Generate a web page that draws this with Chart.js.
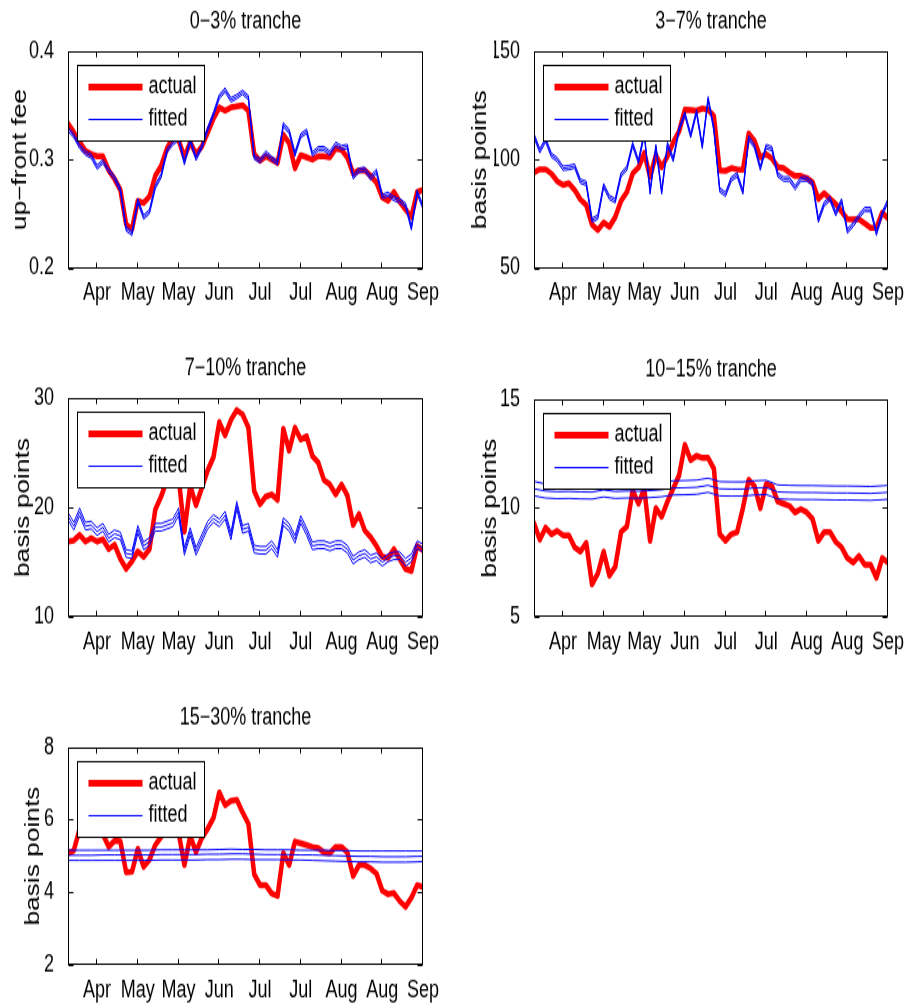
<!DOCTYPE html>
<html>
<head>
<meta charset="utf-8">
<script src="https://cdn.jsdelivr.net/npm/chart.js@4/dist/chart.umd.min.js"></script>
<style>
  html, body { margin: 0; padding: 0; background: #fff; }
  #fig { position: relative; width: 909px; height: 1004px; overflow: hidden; }
  .panel { position: absolute; transform-origin: 0 0; }
  .panel canvas { display: block; }
</style>
</head>
<body>
<div id="fig"></div>
<script>
// ---- data -------------------------------------------------------------
// trading-day index of each observation
const days = [0,2,4,6,8,10,12,14,16,18,20,22,24,26,28,30,32,34,36,38,40,42,44,46,48,50,52,54,56,58,60,
  62,64,66,68,70,72,74,76,78,80,82,84,86,88,90,92,94,96,98,100,102,104,106,108,110,112,114,116,118,120,122];
const coarseDays = [0,4,8,12,16,20,24,28,32,36,40,44,48,52,56,60,64,68,72,76,80,84,88,92,96,100,104,108,112,116,120,122];

const monthTickDays = [10,24,38,52,66,80,94,108,122];
const monthTickLabels = ['Apr','May','May','Jun','Jul','Jul','Aug','Aug','Sep'];
const seriesNames = ['actual','fitted'];
const panelTitles = ['0\u22123% tranche','3\u22127% tranche','7\u221210% tranche','10\u221215% tranche','15\u221230% tranche'];
const yTitles = ['up\u2212front fee','basis points','basis points','basis points','basis points'];

// 0-3% tranche (up-front fee)
const actual03 = [0.333,0.325,0.316,0.308,0.305,0.303,0.303,0.290,0.282,0.272,0.240,0.236,0.262,0.260,0.266,0.285,0.294,0.310,0.320,0.318,0.302,0.316,0.305,0.312,0.325,0.338,0.348,0.345,0.348,0.349,0.350,
  0.345,0.305,0.299,0.303,0.300,0.297,0.323,0.315,0.292,0.304,0.302,0.300,0.303,0.303,0.302,0.310,0.309,0.302,0.287,0.290,0.290,0.285,0.279,0.265,0.262,0.270,0.261,0.254,0.247,0.270,0.272];
const fitted03 = [0.328,0.322,0.312,0.306,0.303,0.293,0.298,0.290,0.283,0.272,0.236,0.232,0.262,0.247,0.252,0.275,0.285,0.308,0.315,0.320,0.297,0.318,0.301,0.312,0.328,0.342,0.358,0.364,0.355,0.358,0.362,
  0.357,0.302,0.299,0.306,0.301,0.297,0.332,0.326,0.305,0.322,0.326,0.305,0.310,0.310,0.306,0.314,0.311,0.312,0.284,0.290,0.291,0.283,0.289,0.266,0.268,0.264,0.262,0.258,0.237,0.270,0.256];
const fitted03Hi = [0.330,0.324,0.314,0.308,0.305,0.295,0.300,0.292,0.285,0.274,0.238,0.234,0.264,0.249,0.254,0.277,0.287,0.310,0.317,0.322,0.299,0.320,0.303,0.314,0.330,0.344,0.360,0.366,0.357,0.360,0.364,
  0.359,0.304,0.301,0.308,0.303,0.299,0.334,0.328,0.307,0.324,0.328,0.307,0.312,0.312,0.308,0.316,0.313,0.314,0.286,0.292,0.293,0.285,0.291,0.268,0.270,0.266,0.264,0.260,0.239,0.272,0.258];
const fitted03Lo = [0.326,0.320,0.310,0.304,0.301,0.291,0.296,0.288,0.281,0.270,0.234,0.230,0.260,0.245,0.250,0.273,0.283,0.306,0.313,0.318,0.295,0.316,0.299,0.310,0.326,0.340,0.356,0.362,0.353,0.356,0.360,
  0.355,0.300,0.297,0.304,0.299,0.295,0.330,0.324,0.303,0.320,0.324,0.303,0.308,0.308,0.304,0.312,0.309,0.310,0.282,0.288,0.289,0.281,0.287,0.264,0.266,0.262,0.260,0.256,0.235,0.268,0.254];

// 3-7% tranche (bp)
const actual37 = [94,95.5,95.5,93.5,90,88.3,89,86,81.6,79,70,67.5,71,69,73.5,81,85,93.5,96.3,103,92,102,96.5,101.5,108,113,123,122.8,122.5,123.5,123,
  120,95,94.8,96,95.5,95.3,112,108.5,101,102.5,100.5,96.5,96,94,92.4,92.4,91.5,89.5,81.8,84.5,82,79.5,76,72.5,72.4,72.5,70.5,68.5,68.5,75.5,73];
const fitted37 = [111,104,109,102,100,96,96.3,97,90,89,72,73.5,88,82.5,81,93,96,107,99,112,85,106,85,107,100,114,121,111,122,106,128,
  114,86,84,91,93,85,110,106,96,106,105,93,91,91,87,91,91,89,72,79.5,82,75,81,67,70,74,77,77,66,75,81];
const fitted37Hi = [112,105,110,103,101,97,97.3,98,91,90,73,74.5,89,83.5,82,94,97,108,100,113,86,107,86,108,101,115,122,112,123,107,129,
  115,87,85,92,94,86,111,107,97,107,106,94,92,92,88,92,92,90,73,80.5,83,76,82,68,71,75,78,78,67,76,82];
const fitted37Lo = [110,103,108,101,99,95,95.3,96,89,88,71,72.5,87,81.5,80,92,95,106,98,111,84,105,84,106,99,113,120,110,121,105,127,
  113,85,83,90,92,84,109,105,95,105,104,92,90,90,86,90,90,88,71,78.5,81,74,80,66,69,73,76,76,65,74,80];

// 7-10% tranche (bp)
const actual710 = [16.9,17.0,17.5,16.9,17.2,16.9,17.1,16.2,16.6,15.3,14.4,15.1,16.0,15.5,16.2,19.8,21.0,22.5,23.5,22.8,17.8,22.0,20.2,21.8,23.4,24.6,27.8,26.6,28.0,28.9,28.5,
  27.3,21.5,20.3,21.0,21.2,20.7,27.2,25.2,27.3,26.2,26.5,24.7,24.1,22.5,22.1,21.2,22.1,21.1,18.4,19.4,17.9,17.3,16.5,15.5,15.4,16.2,15.3,14.4,14.2,16.5,16.1];
const fitted710 = [19.2,18.3,19.6,18.3,18.4,17.8,18.2,17.2,17.6,17.4,15.8,15.7,18.0,16.5,16.9,18.2,18.2,18.4,18.6,19.6,16.0,17.8,16.0,17.2,18.4,19.0,18.6,19.3,17.4,20.2,18.0,
  18.2,16.2,16.1,16.1,16.6,15.8,18.7,18.2,17.1,18.9,17.8,16.5,16.6,16.6,16.4,16.6,16.6,16.2,15.2,15.6,15.8,15.3,15.5,15.0,15.4,15.6,15.6,15.0,15.4,16.6,16.3];
const fitted710Hi = [19.55,18.65,19.95,18.65,18.75,18.15,18.55,17.55,17.95,17.75,16.15,16.05,18.35,16.85,17.25,18.55,18.55,18.75,18.95,19.95,16.35,18.15,16.35,17.55,18.75,19.35,18.95,19.65,17.75,20.55,18.35,
  18.55,16.55,16.45,16.45,16.95,16.15,19.05,18.55,17.45,19.25,18.15,16.85,16.95,16.95,16.75,16.95,16.95,16.55,15.55,15.95,16.15,15.65,15.85,15.35,15.75,15.95,15.95,15.35,15.75,16.95,16.65];
const fitted710Lo = [18.85,17.95,19.25,17.95,18.05,17.45,17.85,16.85,17.25,17.05,15.45,15.35,17.65,16.15,16.55,17.85,17.85,18.05,18.25,19.25,15.65,17.45,15.65,16.85,18.05,18.65,18.25,18.95,17.05,19.85,17.65,
  17.85,15.85,15.75,15.75,16.25,15.45,18.35,17.85,16.75,18.55,17.45,16.15,16.25,16.25,16.05,16.25,16.25,15.85,14.85,15.25,15.45,14.95,15.15,14.65,15.05,15.25,15.25,14.65,15.05,16.25,15.95];

// 10-15% tranche (bp)
const actual1015 = [9.3,8.55,9.1,8.8,8.95,8.75,8.75,8.2,8.0,8.4,6.5,7.0,8.0,6.9,7.3,8.9,9.15,10.8,10.2,10.9,8.5,10.0,9.6,10.3,10.9,11.5,12.9,12.2,12.4,12.3,12.3,
  11.8,8.8,8.5,8.8,8.9,10.0,11.3,11.0,10.0,11.1,11.0,10.3,10.2,10.1,9.8,9.95,9.8,9.5,8.5,8.9,8.9,8.45,8.2,7.7,7.5,7.8,7.4,7.4,6.8,7.7,7.5];
const fitted1015 = [10.88,10.78,10.75,10.76,10.74,10.73,10.83,10.76,10.78,10.77,10.80,10.84,10.92,10.93,10.95,11.04,10.88,10.87,10.87,10.92,10.94,10.74,10.72,10.71,10.71,10.70,10.69,10.69,10.68,10.67,10.70,10.72];
const fitted1015Hi = [11.22,11.10,11.07,11.08,11.06,11.05,11.15,11.08,11.10,11.09,11.13,11.17,11.25,11.26,11.28,11.37,11.21,11.20,11.20,11.25,11.27,11.06,11.04,11.03,11.03,11.02,11.01,11.01,11.00,10.99,11.02,11.04];
const fitted1015Lo = [10.56,10.46,10.43,10.44,10.42,10.41,10.51,10.44,10.46,10.45,10.48,10.52,10.60,10.61,10.63,10.72,10.56,10.55,10.55,10.60,10.62,10.42,10.40,10.39,10.39,10.38,10.37,10.37,10.36,10.35,10.38,10.40];

// 15-30% tranche (bp)
const actual1530 = [5.07,5.15,5.75,5.95,5.9,5.8,5.6,5.25,5.42,5.4,4.55,4.57,5.2,4.7,4.9,5.3,5.53,5.7,5.75,5.65,4.75,5.55,5.11,5.5,5.75,6.05,6.75,6.4,6.52,6.55,6.2,
  5.89,4.5,4.2,4.2,3.97,3.9,5.08,4.75,5.4,5.35,5.3,5.25,5.22,5.1,5.08,5.25,5.25,5.1,4.45,4.75,4.75,4.66,4.52,4.05,3.95,3.98,3.76,3.6,3.85,4.2,4.15];
const fitted1530 = [5.02,5.02,5.02,5.03,5.03,5.03,5.03,5.03,5.04,5.04,5.04,5.04,5.05,5.05,5.06,5.06,5.05,5.04,5.04,5.04,5.03,5.03,5.02,5.01,5.00,4.99,4.99,4.98,4.98,4.98,4.99,4.99];
const fitted1530Hi = [5.16,5.16,5.16,5.16,5.16,5.16,5.16,5.16,5.17,5.17,5.17,5.17,5.17,5.18,5.19,5.18,5.18,5.17,5.17,5.17,5.16,5.16,5.16,5.15,5.15,5.14,5.14,5.14,5.14,5.14,5.14,5.14];
const fitted1530Lo = [4.88,4.88,4.88,4.88,4.88,4.88,4.88,4.88,4.89,4.89,4.89,4.89,4.90,4.90,4.91,4.91,4.90,4.90,4.90,4.89,4.89,4.88,4.87,4.86,4.85,4.84,4.84,4.83,4.83,4.83,4.84,4.85];

const yTicks03 = [0.2,0.3,0.4];
const yTicks37 = [50,100,150];
const yTicks710 = [10,20,30];
const yTicks1015 = [5,10,15];
const yTicks1530 = [2,4,6,8];

// ---- layout -----------------------------------------------------------
const FONT = '"Liberation Sans", Arial, Helvetica, sans-serif';
const SY = 1.35;          // the figure is drawn vertically stretched
const X_AXIS_H = 28.5;    // height reserved for month labels (canvas units)
const Y_AXIS_W = 40;      // width reserved for value labels

// page-pixel placement of each canvas and of its plot box
const panels = [
  { canvas: [0, 0, 454, 340],   plot: [68, 51, 423, 268],  yTicks: yTicks03,   dec: 1, yTitleDx: -47,
    actual: actual03,   fits: [fitted03Hi, fitted03, fitted03Lo],       fitDays: days },
  { canvas: [455, 0, 454, 340], plot: [534, 51, 888, 268], yTicks: yTicks37,   dec: 0, yTitleDx: -53,
    actual: actual37,   fits: [fitted37Hi, fitted37, fitted37Lo],       fitDays: days },
  { canvas: [0, 340, 454, 340], plot: [68, 398, 423, 617], yTicks: yTicks710,  dec: 0, yTitleDx: -44,
    actual: actual710,  fits: [fitted710Hi, fitted710, fitted710Lo],    fitDays: days },
  { canvas: [455, 340, 454, 340], plot: [534, 399, 888, 617], yTicks: yTicks1015, dec: 0, yTitleDx: -43,
    actual: actual1015, fits: [fitted1015Hi, fitted1015, fitted1015Lo], fitDays: coarseDays },
  { canvas: [0, 680, 454, 324], plot: [68, 747, 423, 965], yTicks: yTicks1530, dec: 0, yTitleDx: -34,
    actual: actual1530, fits: [fitted1530Hi, fitted1530, fitted1530Lo], fitDays: coarseDays }
];

Chart.defaults.font.family = FONT;
Chart.defaults.font.size = 18;
Chart.defaults.color = '#000';

function seg(ctx, x1, y1, x2, y2) {
  ctx.beginPath(); ctx.moveTo(x1, y1); ctx.lineTo(x2, y2); ctx.stroke();
}

// axes box with inward ticks, in-plot legend, title and y label
const matlabFrame = {
  id: 'matlabFrame',
  afterDatasetsDraw(chart, _args, o) {
    const { ctx, chartArea: a } = chart;
    const xs = chart.scales.x, ys = chart.scales.y;
    ctx.save();

    // legend box
    const L = Math.round(a.left + 9) + 0.5, T = Math.round(a.top + 10) + 0.5;
    const W = 127, H = 56;
    ctx.fillStyle = '#fff';
    ctx.fillRect(L, T, W, H);
    ctx.strokeStyle = '#000'; ctx.lineWidth = 1;
    ctx.strokeRect(L, T, W, H);
    ctx.lineCap = 'butt';
    ctx.strokeStyle = '#ff0000'; ctx.lineWidth = 5;
    seg(ctx, L + 11, T + 16, L + 65, T + 16);
    ctx.strokeStyle = '#0000ff'; ctx.lineWidth = 1;
    seg(ctx, L + 11, T + 40, L + 65, T + 40);
    ctx.fillStyle = '#000';
    ctx.font = '18px ' + FONT;
    ctx.textAlign = 'left'; ctx.textBaseline = 'middle';
    ctx.fillText(seriesNames[0], L + 71, T + 16);
    ctx.fillText(seriesNames[1], L + 71, T + 40);

    // axes box
    ctx.strokeStyle = '#000'; ctx.lineWidth = 1;
    const l = Math.round(a.left) + 0.5, r = Math.round(a.right) - 0.5;
    const t = Math.round(a.top) + 0.5, b = Math.round(a.bottom) - 0.5;
    ctx.strokeRect(l, t, r - l, b - t);
    xs.ticks.forEach(tk => {
      const px = Math.round(xs.getPixelForValue(tk.value)) - 0.5;
      seg(ctx, px, b, px, b - 4);
      seg(ctx, px, t, px, t + 4);
    });
    ys.ticks.forEach(tk => {
      const py = Math.round(ys.getPixelForValue(tk.value)) + 0.5;
      seg(ctx, l, py, l + 5, py);
      seg(ctx, r, py, r - 5, py);
    });

    // title
    ctx.textAlign = 'center';
    ctx.font = '18px ' + FONT;
    ctx.fillText(o.title, (a.left + a.right) / 2, a.top - 21.5);

    // y label
    ctx.translate(a.left + o.yTitleDx, (a.top + a.bottom) / 2);
    ctx.rotate(-Math.PI / 2);
    ctx.font = '19.5px ' + FONT;
    ctx.fillText(o.yTitle, 0, 0);
    ctx.restore();
  }
};

const fig = document.getElementById('fig');
const pts = (xs, ys) => xs.map((x, k) => ({ x, y: ys[k] }));

panels.forEach((p, n) => {
  const [cl, ct, cw, ch] = p.canvas;
  const [pl, pt, pr, pb] = p.plot;
  const hInt = Math.round(ch / SY);
  const wrap = document.createElement('div');
  wrap.className = 'panel';
  wrap.style.left = cl + 'px';
  wrap.style.top = ct + 'px';
  wrap.style.width = cw + 'px';
  wrap.style.height = hInt + 'px';
  wrap.style.transform = 'scaleY(' + SY + ')';
  const cv = document.createElement('canvas');
  cv.width = cw; cv.height = hInt;
  cv.style.width = cw + 'px'; cv.style.height = hInt + 'px';
  wrap.appendChild(cv);
  fig.appendChild(wrap);

  const padTop = (pt - ct) / SY;
  const padBottom = Math.max(0, hInt - (pb - ct) / SY - X_AXIS_H);
  const padLeft = pl - cl - Y_AXIS_W;
  const padRight = cl + cw - pr;

  const datasets = p.fits.map(f => ({
    data: pts(p.fitDays, f), borderColor: '#0000ff', borderWidth: 1, order: 0
  }));
  datasets.push({
    data: pts(days, p.actual), borderColor: '#ff0000', borderWidth: 4.5, order: 1,
    borderJoinStyle: 'round', borderCapStyle: 'round'
  });

  new Chart(cv, {
    type: 'line',
    data: { datasets },
    options: {
      responsive: false,
      animation: false,
      events: [],
      layout: { padding: { left: padLeft, right: padRight, top: padTop, bottom: padBottom } },
      elements: { point: { radius: 0 }, line: { tension: 0, fill: false } },
      scales: {
        x: {
          type: 'linear', min: 0, max: 122,
          grid: { display: false }, border: { display: false },
          afterBuildTicks: ax => { ax.ticks = monthTickDays.map(v => ({ value: v })); },
          afterFit: ax => { ax.height = X_AXIS_H; },
          ticks: { autoSkip: false, maxRotation: 0, padding: 0,
                   callback: (v, i) => monthTickLabels[i] }
        },
        y: {
          type: 'linear', min: p.yTicks[0], max: p.yTicks[p.yTicks.length - 1],
          grid: { display: false }, border: { display: false },
          afterBuildTicks: ax => { ax.ticks = p.yTicks.map(v => ({ value: v })); },
          afterFit: ax => { ax.width = Y_AXIS_W; },
          ticks: { autoSkip: false, padding: 6, callback: v => Number(v).toFixed(p.dec) }
        }
      },
      plugins: {
        legend: { display: false },
        tooltip: { enabled: false },
        matlabFrame: { title: panelTitles[n], yTitle: yTitles[n], yTitleDx: p.yTitleDx }
      }
    },
    plugins: [matlabFrame]
  });
});
</script>
</body>
</html>
